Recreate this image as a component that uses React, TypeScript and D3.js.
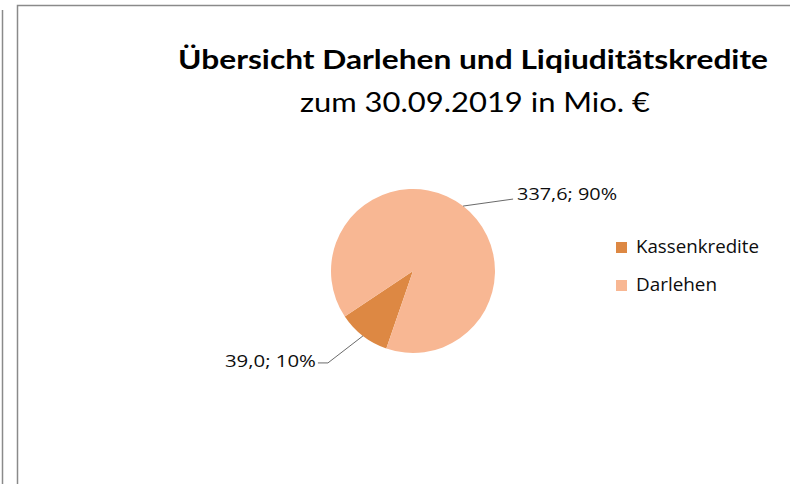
import * as d3 from 'd3';

// chart data
const categories = ['Kassenkredite', 'Darlehen'];
const values = [39.0, 337.6];
const colors = ['#dd8843', '#f8b793'];
const titleLine1 = 'Übersicht Darlehen und Liqiuditätskredite';
const titleLine2 = 'zum 30.09.2019 in Mio. €';

const W = 790;
const H = 484;
const cx = 413;
const cy = 271;
const radius = 82;

// label layout: offset of leader elbow from arc point, text placement
const labelLayout = [
  { dx: -35, dy: 27, tail: -10, anchor: 'end', tx: -2, ty: 4, len: 91 },
  { dx: 50, dy: -7, tail: 0, anchor: 'start', tx: 4, ty: 1, len: 100 },
];

const fmt = (v: number) => d3.format('.1f')(v).replace('.', ',');

const App = () => {
  const total = d3.sum(values);
  const pie = d3
    .pie<number>()
    .sort(null)
    .startAngle((199 * Math.PI) / 180)
    .endAngle((199 * Math.PI) / 180 + 2 * Math.PI);
  const arcs = pie(values);
  const arc = d3.arc<d3.PieArcDatum<number>>().innerRadius(0).outerRadius(radius);

  return (
    <div style={{ position: 'absolute', left: 0, top: 0 }}>
      <svg width={W} height={H} style={{ display: 'block', background: '#fff' }}>
        {/* frames */}
        <line x1={2.5} y1={10} x2={2.5} y2={H} stroke="#8a8a8a" strokeWidth={1.5} />
        <path d={`M17.5,${H} V5.5 H${W}`} fill="none" stroke="#8a8a8a" strokeWidth={1.5} />

        {/* title */}
        <text
          x={473}
          y={69}
          textAnchor="middle"
          fontFamily="Lato, 'Open Sans', sans-serif"
          fontWeight="bold"
          fontSize={26}
          textLength={590}
          lengthAdjust="spacingAndGlyphs"
          fill="#000"
        >
          {titleLine1}
        </text>
        <text
          x={475}
          y={112}
          textAnchor="middle"
          fontFamily="Lato, 'Open Sans', sans-serif"
          fontSize={26}
          textLength={350}
          lengthAdjust="spacingAndGlyphs"
          fill="#000"
        >
          {titleLine2}
        </text>

        {/* pie */}
        <g transform={`translate(${cx},${cy})`}>
          {arcs.map((a, i) => (
            <path key={categories[i]} d={arc(a) || ''} fill={colors[i]} />
          ))}
          {arcs.map((a, i) => {
            const mid = (a.startAngle + a.endAngle) / 2;
            const sx = radius * Math.sin(mid);
            const sy = -radius * Math.cos(mid);
            const L = labelLayout[i];
            const ex = sx + L.dx;
            const ey = sy + L.dy;
            const fx = ex + L.tail;
            const pct = Math.round((values[i] / total) * 100);
            return (
              <g key={'lbl' + i}>
                <polyline
                  points={`${sx},${sy} ${ex},${ey} ${fx},${ey}`}
                  fill="none"
                  stroke="#595959"
                  strokeWidth={0.9}
                />
                <text
                  x={fx + L.tx}
                  y={ey + L.ty}
                  textAnchor={L.anchor}
                  fontFamily="'Open Sans', sans-serif"
                  fontSize={17}
                  textLength={L.len}
                  lengthAdjust="spacingAndGlyphs"
                  fill="#0d0d0d"
                >
                  {`${fmt(values[i])}; ${pct}%`}
                </text>
              </g>
            );
          })}
        </g>

        {/* legend */}
        {categories.map((c, i) => (
          <g key={'leg' + c} transform={`translate(616,${242 + i * 38})`}>
            <rect width={11} height={11} fill={colors[i]} />
            <text
              x={20}
              y={11}
              fontFamily="'Open Sans', sans-serif"
              fontSize={18}
              textLength={i === 0 ? 123 : 81}
              lengthAdjust="spacingAndGlyphs"
              fill="#0d0d0d"
            >
              {c}
            </text>
          </g>
        ))}
      </svg>
    </div>
  );
};

export default App;
